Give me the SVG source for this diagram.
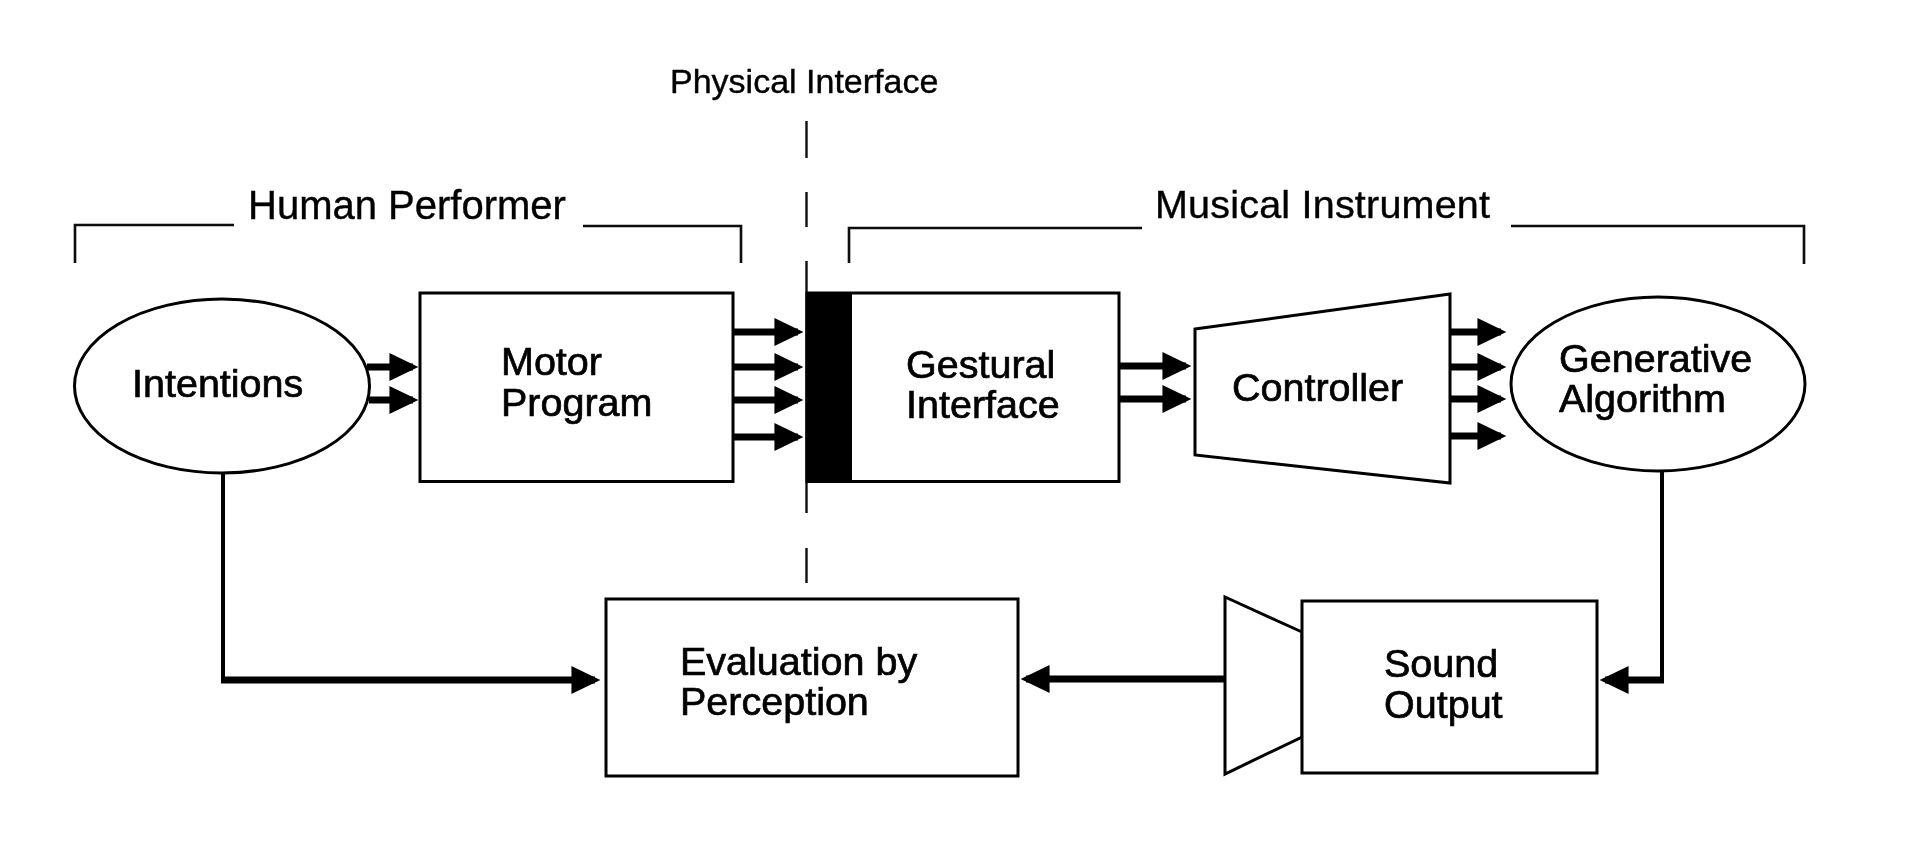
<svg xmlns="http://www.w3.org/2000/svg" width="1920" height="865" viewBox="0 0 1920 865">
<style>
.s{fill:#fff;stroke:#000;stroke-width:3}
.b{fill:none;stroke:#111;stroke-width:2.6}
.d{fill:none;stroke:#111;stroke-width:2.4}
.c{fill:none;stroke:#000;stroke-width:7;marker-end:url(#ah)}
.v{fill:none;stroke:#000;stroke-width:4}
text{font-family:"Liberation Sans",Arial,sans-serif;font-size:39.5px;fill:#000;stroke:#000;stroke-width:.7}
.sm{font-size:34px;stroke-width:.4}
.lg{font-size:40px;stroke-width:.4}
.mi{stroke-width:.4}
</style>
<defs>
<marker id="ah" markerUnits="userSpaceOnUse" markerWidth="30" markerHeight="28" viewBox="0 0 28 26" refX="22" refY="13" orient="auto"><path d="M0 0L27 13L0 26Z" fill="#000"/></marker>
<filter id="soft" x="0" y="0" width="1920" height="865" filterUnits="userSpaceOnUse"><feGaussianBlur stdDeviation="0.6"/></filter>
</defs>
<rect width="1920" height="865" fill="#fff"/>
<g filter="url(#soft)">
<g id="labels">
<text class="sm" x="670" y="93">Physical Interface</text>
<text class="lg" x="248" y="219">Human Performer</text>
<text class="mi" x="1155" y="218" textLength="335">Musical Instrument</text>
</g>
<g id="brackets">
<path class="b" d="M75 263V225H234M583 226H741V263"/>
<path class="b" d="M849 263V228H1142M1511 226H1804V264"/>
</g>
<g id="interface-line">
<path class="d" d="M806.500 121V158M806.500 192V227M806.500 261V513M806.500 548V583"/>
</g>
<g id="intentions"><ellipse class="s" cx="222" cy="386" rx="147.500" ry="87"/><text x="132" y="397">Intentions</text></g>
<g id="motor-program"><rect class="s" x="420" y="293" width="313" height="188.500"/><text x="501" y="375">Motor</text><text x="501" y="416">Program</text></g>
<g id="gestural-interface"><rect class="s" x="807" y="293" width="312" height="188.500"/><rect x="807" y="292" width="45" height="190" fill="#000"/><text x="906" y="378">Gestural</text><text x="906" y="418">Interface</text></g>
<g id="controller"><path class="s" d="M1195 329L1450 294V483L1195 455Z"/><text x="1232" y="401">Controller</text></g>
<g id="generative-algorithm"><ellipse class="s" cx="1658" cy="384" rx="147" ry="87"/><text x="1559" y="372">Generative</text><text x="1559" y="412">Algorithm</text></g>
<g id="evaluation"><rect class="s" x="606" y="599" width="412" height="177"/><text x="680" y="675">Evaluation by</text><text x="680" y="715">Perception</text></g>
<g id="sound-output"><path class="s" d="M1302 632L1225 597V774L1302 737Z"/><rect class="s" x="1302" y="601" width="295" height="172"/><text x="1384" y="677">Sound</text><text x="1384" y="718">Output</text></g>
<g id="connectors">
<path class="c" d="M367 367H413"/><path class="c" d="M369 400H413"/>
<path class="c" d="M733 332H798"/><path class="c" d="M733 367H798"/><path class="c" d="M733 400H798"/><path class="c" d="M733 437H798"/>
<path class="c" d="M1119 366H1186"/><path class="c" d="M1119 399H1186"/>
<path class="c" d="M1449 332H1501"/><path class="c" d="M1449 367H1501"/><path class="c" d="M1449 399H1501"/><path class="c" d="M1449 436H1501"/>
<path class="v" d="M223 474V680"/><path class="c" d="M221 680H595"/>
<path class="c" d="M1226 679H1026"/>
<path class="v" d="M1662 472V682"/><path class="c" d="M1664 680H1605"/>
</g>
</g>
</svg>
